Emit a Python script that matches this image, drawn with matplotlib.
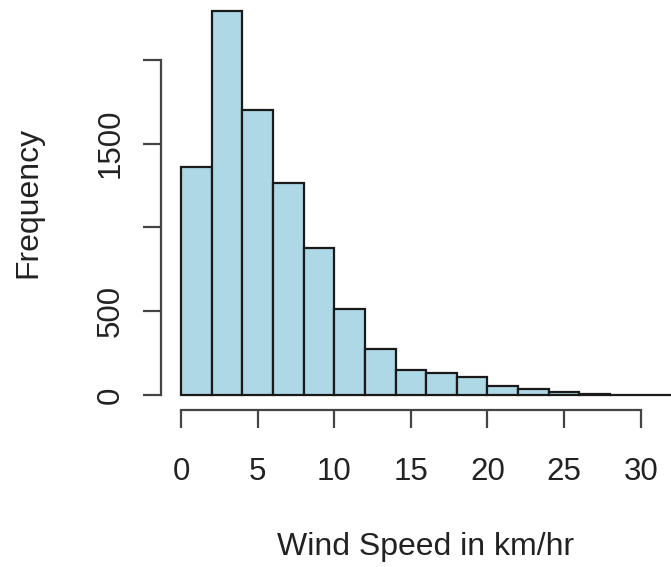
import numpy as np
import matplotlib
matplotlib.use('Agg')
import matplotlib.pyplot as plt

# histogram of wind speed, 2 km/hr bins
bin_edges = np.arange(0, 34, 2)
counts = [1360, 2290, 1700, 1265, 878, 513, 275, 150, 130, 108, 55, 36, 18, 6, 2, 1]
x_ticks = [0, 5, 10, 15, 20, 25, 30]
y_ticks = [0, 500, 1000, 1500, 2000]
y_tick_labels = ['0', '500', '', '1500', '']

plt.rcParams['font.family'] = 'Liberation Sans'

fig = plt.figure(figsize=(6.71, 5.67), dpi=100)
ax = fig.add_axes([161.4 / 671, 1 - 410 / 567, (691 - 161.4) / 671, 410 / 567])

ax.bar(bin_edges[:-1], counts, width=2, align='edge', color='#ADD8E6',
       edgecolor='#1a1a1a', linewidth=1.6)

ax.set_xlim(-1.28, 33.28)
ax.set_ylim(-89.5, 2358)

for s in ['top', 'right']:
    ax.spines[s].set_visible(False)
for s in ['left', 'bottom']:
    ax.spines[s].set_color('#444444')
    ax.spines[s].set_linewidth(1.6)
ax.spines['left'].set_bounds(0, 2000)
ax.spines['bottom'].set_bounds(0, 30)

ax.set_xticks(x_ticks)
ax.set_xticklabels([str(t) for t in x_ticks])
ax.set_yticks(y_ticks)
ax.set_yticklabels(y_tick_labels, rotation=90, va='center')
ax.tick_params(axis='both', length=13, width=1.6, color='#444444',
               labelsize=22.5, labelcolor='#222222')
ax.tick_params(axis='x', pad=21)
ax.tick_params(axis='y', pad=13)

fig.text(426 / 671, 1 - 547 / 567, 'Wind Speed in km/hr', ha='center', va='center',
         fontsize=23, color='#222222')
fig.text(28 / 671, 1 - 202 / 567, 'Frequency', ha='center', va='center',
         rotation=90, fontsize=23, color='#222222')

fig.savefig('out.png', dpi=100)
